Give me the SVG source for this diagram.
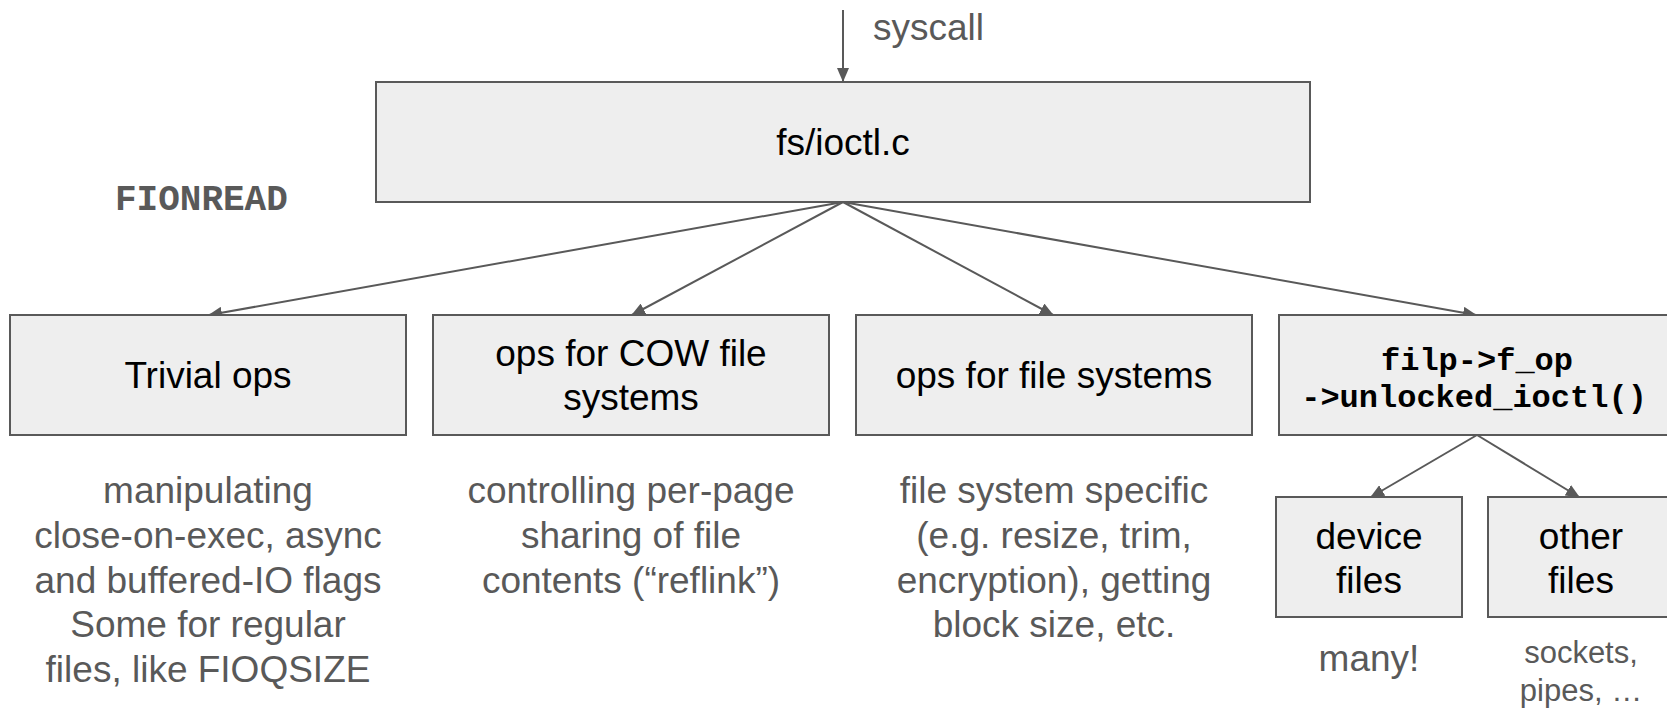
<svg xmlns="http://www.w3.org/2000/svg" width="1667" height="708" viewBox="0 0 1667 708">
<style>
.box{fill:#eeeeee;stroke:#595959;stroke-width:2}
.lbl{font-family:"Liberation Sans",Arial,sans-serif;font-size:37px;fill:#000;text-anchor:middle}
.mono{font-family:"Liberation Mono","Courier New",monospace;font-weight:bold;font-size:32px;fill:#000;text-anchor:middle}
.desc{font-family:"Liberation Sans",Arial,sans-serif;font-size:37px;fill:#595959;text-anchor:middle}
.small{font-family:"Liberation Sans",Arial,sans-serif;font-size:31px;fill:#595959;text-anchor:middle}
.conn{stroke:#595959;stroke-width:2;fill:none;marker-end:url(#ah)}
</style>
<defs>
<marker id="ah" markerUnits="userSpaceOnUse" markerWidth="14" markerHeight="12" refX="13" refY="6" orient="auto">
<path d="M0,0 L14,6 L0,12 z" fill="#595959"/>
</marker>
</defs>
<rect width="1667" height="708" fill="#fff"/>
<g id="connectors">
<line class="conn" x1="843" y1="10" x2="843" y2="81"/>
<line class="conn" x1="843" y1="202" x2="209" y2="315"/>
<line class="conn" x1="843" y1="202" x2="632" y2="315"/>
<line class="conn" x1="843" y1="202" x2="1053" y2="315"/>
<line class="conn" x1="843" y1="202" x2="1476" y2="315"/>
<line class="conn" x1="1477" y1="435" x2="1371" y2="497"/>
<line class="conn" x1="1477" y1="435" x2="1579" y2="497"/>
</g>
<g id="syscall-label">
<text class="desc" x="873" y="40" style="text-anchor:start">syscall</text>
</g>
<g id="ioctl-c">
<rect class="box" x="376" y="82" width="934" height="120"/>
<text class="lbl" x="843" y="155">fs/ioctl.c</text>
</g>
<g id="fionread">
<text x="115" y="210" style="font-family:'Liberation Mono','Courier New',monospace;font-weight:bold;font-size:36px;fill:#595959">FIONREAD</text>
</g>
<g id="trivial">
<rect class="box" x="10" y="315" width="396" height="120"/>
<text class="lbl" x="208" y="388">Trivial ops</text>
<text class="desc" x="208" y="503">manipulating</text>
<text class="desc" x="208" y="548">close-on-exec, async</text>
<text class="desc" x="208" y="593">and buffered-IO flags</text>
<text class="desc" x="208" y="637">Some for regular</text>
<text class="desc" x="208" y="682">files, like FIOQSIZE</text>
</g>
<g id="cow">
<rect class="box" x="433" y="315" width="396" height="120"/>
<text class="lbl" x="631" y="366">ops for COW file</text>
<text class="lbl" x="631" y="410">systems</text>
<text class="desc" x="631" y="503">controlling per-page</text>
<text class="desc" x="631" y="548">sharing of file</text>
<text class="desc" x="631" y="593">contents (“reflink”)</text>
</g>
<g id="fs">
<rect class="box" x="856" y="315" width="396" height="120"/>
<text class="lbl" x="1054" y="388">ops for file systems</text>
<text class="desc" x="1054" y="503">file system specific</text>
<text class="desc" x="1054" y="548">(e.g. resize, trim,</text>
<text class="desc" x="1054" y="593">encryption), getting</text>
<text class="desc" x="1054" y="637">block size, etc.</text>
</g>
<g id="filp">
<rect class="box" x="1279" y="315" width="400" height="120"/>
<text class="mono" x="1477" y="370">filp-&gt;f_op</text>
<text class="mono" x="1474" y="407">-&gt;unlocked_ioctl()</text>
</g>
<g id="device">
<rect class="box" x="1276" y="497" width="186" height="120"/>
<text class="lbl" x="1369" y="549">device</text>
<text class="lbl" x="1369" y="593">files</text>
<text class="desc" x="1369" y="671">many!</text>
</g>
<g id="other">
<rect class="box" x="1488" y="497" width="190" height="120"/>
<text class="lbl" x="1581" y="549">other</text>
<text class="lbl" x="1581" y="593">files</text>
<text class="small" x="1581" y="663">sockets,</text>
<text class="small" x="1581" y="701">pipes, …</text>
</g>
</svg>
